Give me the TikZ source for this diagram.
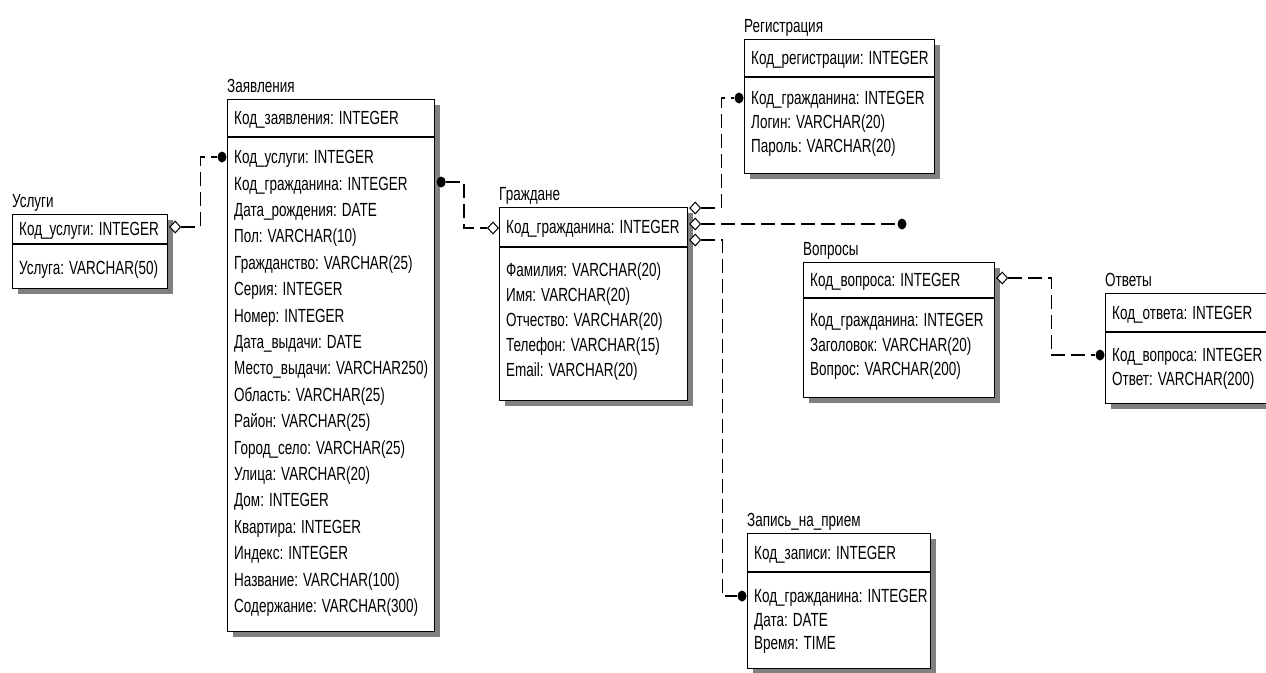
\documentclass[tikz,border=0pt]{standalone}
\usepackage{fontspec}
\setmainfont{Liberation Sans}[FakeStretch=0.71]
\usetikzlibrary{shapes.geometric}

% row spacing and offset of the first attribute row, set per entity
\newcommand\rowskip{24}
\newcommand\rowgap{22}

% entity: name, title, x, y, width, key height, total height, key, attributes
\newcommand\erentity[9]{%
  \fill[shade] (#3+6,#4+6) rectangle (#3+#5+6,#4+#7+6);
  \node[box, minimum width=#5, minimum height=#7] (#1) at (#3,#4) {};
  \draw[line width=1.2pt] (#3,#4+#6) -- (#3+#5,#4+#6);
  \node[txt, anchor=base west] (#1-title) at (#3,#4-7) {#2};
  \node[txt, anchor=base west] (#1-key) at (#3+7,#4+#6/2+6.5) {#8};
  \node[txt, anchor=north west] (#1-attrs) at (#3+7,#4+#6+\rowgap+6.5-16) {\rule{0pt}{16pt}#9};
}

\begin{document}
\begin{tikzpicture}[x=1pt,y=-1pt,
  box/.style={draw=black, line width=1.2pt, fill=white, inner sep=0, anchor=north west},
  shade/.style={fill=black!50},
  txt/.style={inner sep=0, align=left, font=\fontsize{19}{\rowskip}\selectfont},
  rel/.style={line width=1.3pt, dash pattern=on 14pt off 6pt},
  hollow/.style={diamond, draw, fill=white, line width=1pt, inner sep=0,
    minimum width=11pt, minimum height=12pt},
  fdot/.style={ellipse, fill=black, inner sep=0, minimum width=9pt, minimum height=11pt}
]
\useasboundingbox[fill=white] (0,0) rectangle (1266,672);

% tables
\renewcommand\rowgap{24}
\erentity{usl}{Услуги}{12}{214}{155}{30}{74}{Код\_услуги: INTEGER}{Услуга: VARCHAR(50)}
\renewcommand\rowskip{26.4}\renewcommand\rowgap{20}
\erentity{zay}{Заявления}{227}{99}{207}{38}{532}{Код\_заявления: INTEGER}{%
  Код\_услуги: INTEGER\\
  Код\_гражданина: INTEGER\\
  Дата\_рождения: DATE\\
  Пол: VARCHAR(10)\\
  Гражданство: VARCHAR(25)\\
  Серия: INTEGER\\
  Номер: INTEGER\\
  Дата\_выдачи: DATE\\
  Место\_выдачи: VARCHAR250)\\
  Область: VARCHAR(25)\\
  Район: VARCHAR(25)\\
  Город\_село: VARCHAR(25)\\
  Улица: VARCHAR(20)\\
  Дом: INTEGER\\
  Квартира: INTEGER\\
  Индекс: INTEGER\\
  Название: VARCHAR(100)\\
  Содержание: VARCHAR(300)}
\renewcommand\rowskip{25}\renewcommand\rowgap{23}
\erentity{grz}{Граждане}{499}{207}{188}{40}{193}{Код\_гражданина: INTEGER}{%
  Фамилия: VARCHAR(20)\\
  Имя: VARCHAR(20)\\
  Отчество: VARCHAR(20)\\
  Телефон: VARCHAR(15)\\
  Email: VARCHAR(20)}
\renewcommand\rowskip{24}\renewcommand\rowgap{21}
\erentity{reg}{Регистрация}{744}{39}{190}{38}{134}{Код\_регистрации: INTEGER}{%
  Код\_гражданина: INTEGER\\
  Логин: VARCHAR(20)\\
  Пароль: VARCHAR(20)}
\renewcommand\rowskip{24.5}\renewcommand\rowgap{22}
\erentity{vop}{Вопросы}{803}{262}{191}{36}{135}{Код\_вопроса: INTEGER}{%
  Код\_гражданина: INTEGER\\
  Заголовок: VARCHAR(20)\\
  Вопрос: VARCHAR(200)}
\renewcommand\rowskip{23.5}\renewcommand\rowgap{23}
\erentity{otv}{Ответы}{1105}{293}{175}{39}{110}{Код\_ответа: INTEGER}{%
  Код\_вопроса: INTEGER\\
  Ответ: VARCHAR(200)}
\renewcommand\rowskip{23.5}\renewcommand\rowgap{24}
\erentity{zap}{Запись\_на\_прием}{747}{533}{183}{39}{135}{Код\_записи: INTEGER}{%
  Код\_гражданина: INTEGER\\
  Дата: DATE\\
  Время: TIME}

% relationship ends
\path (usl.east |- 0,227) ++(7,0) node[hollow] (d-usl) {};
\path (zay.west |- 0,157) ++(-5,0) node[fdot] (f-zay1) {};
\path (zay.east |- 0,182) ++(6,0) node[fdot] (f-zay2) {};
\path (grz.west |- 0,228) ++(-6,0) node[hollow] (d-grz0) {};
\path (grz.east |- 0,208) ++(7,0) node[hollow] (d-grz1) {};
\path (grz.east |- 0,224) ++(7,0) node[hollow] (d-grz2) {};
\path (grz.east |- 0,240) ++(7,0) node[hollow] (d-grz3) {};
\path (reg.west |- 0,98) ++(-5,0) node[fdot] (f-reg) {};
\node[fdot] (f-free) at (902,224) {};
\path (zap.west |- 0,596) ++(-5,0) node[fdot] (f-zap) {};
\path (vop.east |- 0,278) ++(7,0) node[hollow] (d-vop) {};
\path (otv.west |- 0,355) ++(-5,0) node[fdot] (f-otv) {};

% relationships
\draw[rel] (d-usl.east) -- ++(19,0) |- (f-zay1.west);
\draw[rel] (f-zay2.east) -- ++(18,0) |- (d-grz0.west);
\draw[rel] (d-grz1.east) -- ++(20,0) |- (f-reg.west);
\draw[rel] (d-grz2.east) -- (f-free.west);
\draw[rel] (d-grz3.east) -- ++(21,0) |- (f-zap.west);
\draw[rel] (d-vop.east) -- ++(43,0) |- (f-otv.west);
\end{tikzpicture}
\end{document}
